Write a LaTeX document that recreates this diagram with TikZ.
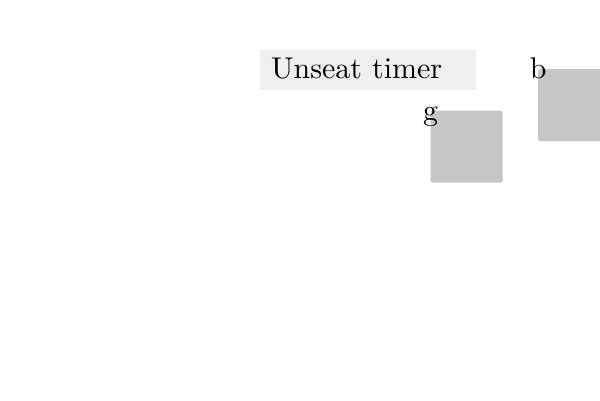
\documentclass[tikz,border=0pt]{standalone}
\begin{document}
\begin{tikzpicture}[x=1bp,y=-1bp,
  lbl/.style={inner sep=0pt,font=\fontsize{10bp}{12bp}\selectfont,scale=3,transform shape},
  tilebox/.style={fill=tilegray,draw=none,rounded corners=2bp,minimum width=72bp,minimum height=72bp,inner sep=0pt,anchor=north west},
]
\definecolor{tilegray}{HTML}{C6C6C6}
\definecolor{bargray}{HTML}{EFEFEF}
\useasboundingbox (0,0) rectangle (600,400);
\node[fill=bargray,minimum width=216bp,minimum height=40bp,inner sep=0pt,anchor=north west] (timerbox) at (260,50) {};
\node[lbl,anchor=base west] (timer) at (270.5,78.5) {Unseat timer};
\node[tilebox] (gsq) at (430.5,110.5) {};
\node[tilebox] (bsq) at (538,69) {};
\node[lbl,anchor=base] (glab) at (430.5,120.5) {g};
\node[lbl,anchor=base] (blab) at (538.3,78.5) {b};
\end{tikzpicture}
\end{document}
